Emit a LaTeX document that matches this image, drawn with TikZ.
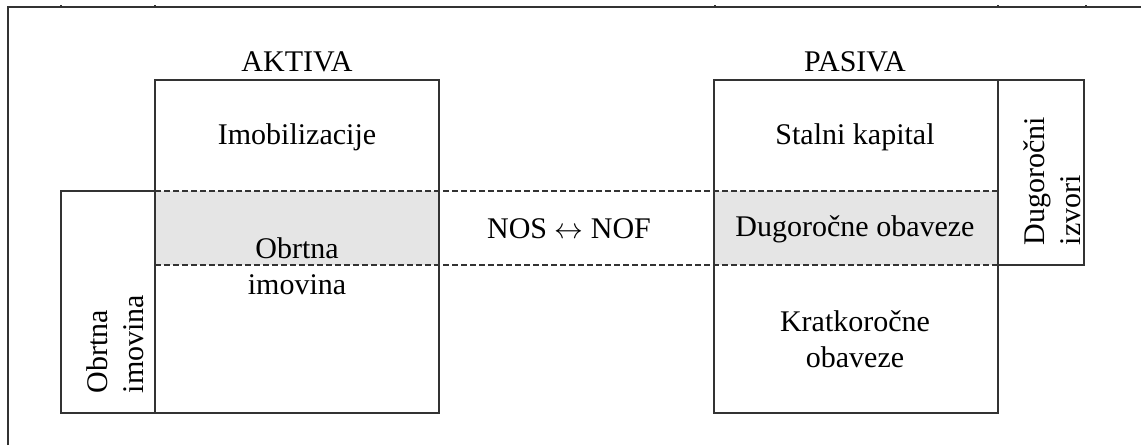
\documentclass[tikz,border=0pt]{standalone}
\usepackage{fontspec}
\setmainfont{Liberation Serif}
\usepackage{tikz}

\begin{document}
\begin{tikzpicture}[x=0.5pt,y=-0.5pt,
    linie/.style={line width=0.6pt, black!80},
    schrift/.style={font=\fontsize{15}{18}\selectfont, inner sep=0pt},
    strich/.style={linie, dash pattern=on 3pt off 1.5pt}]

\useasboundingbox (0,0) rectangle (1141,445);

% Rahmen
\draw[linie] (8,445) -- (8,7) -- (1141,7);
\foreach \x in {61,155,715,998,1086}
    \draw[linie] (\x,5) -- (\x,7);

% Schattierung
\fill[gray!20] (155,191) rectangle (439,265);
\fill[gray!20] (714,191) rectangle (998,265);

% Kaesten
\draw[linie] (155,80) rectangle (439,413);
\draw[linie] (714,80) rectangle (998,413);
\draw[linie] (61,191) rectangle (155,413);
\draw[linie] (998,80) rectangle (1084,265);

% Trennlinien
\draw[strich] (155,191) -- (998,191);
\draw[strich] (155,265) -- (998,265);

% Beschriftungen
\node[schrift] (aktiva) at (297,62) {AKTIVA};
\node[schrift] (pasiva) at (855,62) {PASIVA};
\node[schrift] (imob) at (297,137) {Imobilizacije};
\node[schrift, align=center] (obrtna) at (297,266) {Obrtna\\imovina};
\node[schrift] (stalni) at (855,137) {Stalni kapital};
\node[schrift] (dugobav) at (855,229) {Dugoročne obaveze};
\node[schrift, align=center] (kratko) at (855,339) {Kratkoročne\\obaveze};
\node[schrift] (nos) at (569,229) {NOS $\leftrightarrow$ NOF};

% gedrehte Texte
\node[schrift, rotate=90, align=left] (obrtnarot) at (115,344) {Obrtna\\imovina};
\node[schrift, rotate=90, align=left] (izvori) at (1052,181) {Dugoročni\\izvori};

\end{tikzpicture}
\end{document}
